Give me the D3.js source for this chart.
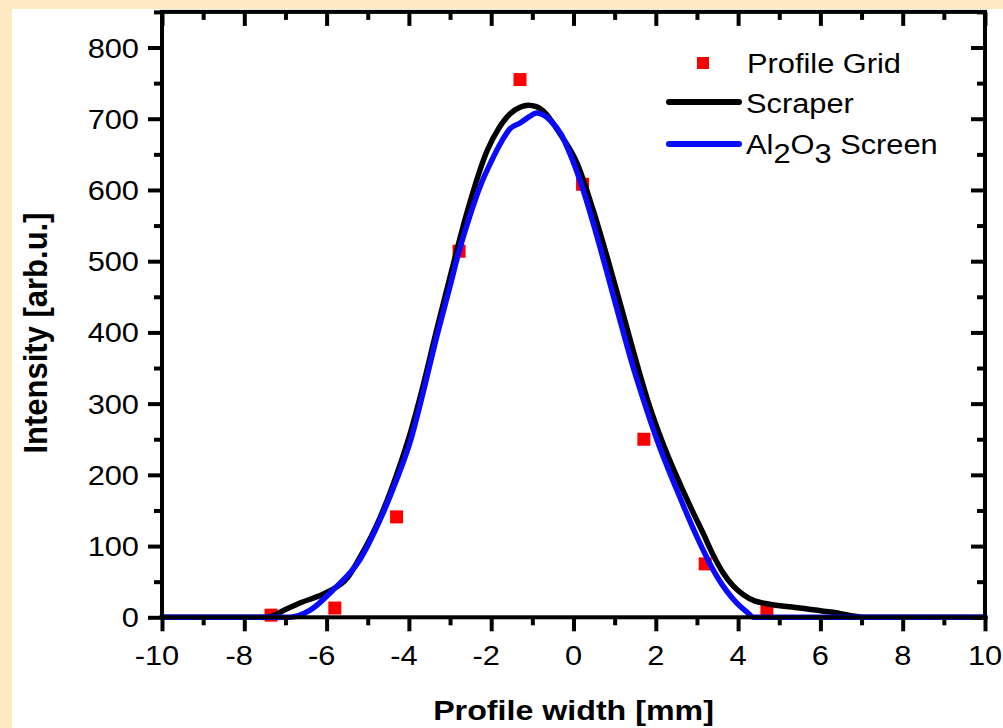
<!DOCTYPE html>
<html><head><meta charset="utf-8">
<script src="https://cdn.jsdelivr.net/npm/d3@7"></script>
<style>
html,body{margin:0;padding:0;background:#FDE9C2;}
svg{display:block;}
text{font-family:"Liberation Sans",Arial,sans-serif;fill:#000;}
</style></head>
<body>
<svg id="chart" width="1003" height="728"></svg>
<script>
// ---- data ----
const gridX = [-7.35, -5.8, -4.3, -2.78, -1.3, 0.22, 1.71, 3.2, 4.7];
const gridY = [3, 13, 141, 514, 755, 608, 250, 75, 10];

const scraperX = [-10, -7.45, -7.0, -6.65, -6.0, -5.5, -5.19, -4.7, -4.3, -3.95, -3.7, -3.32, -3.0, -2.59, -2.1, -1.8, -1.54, -1.3, -1.1, -0.9, -0.74, -0.33, 0.09, 0.47, 0.86, 1.2, 1.53, 1.8, 2.2, 2.7, 2.9, 3.15, 3.39, 3.63, 3.88, 4.12, 4.4, 4.7, 5.5, 6.3, 7.1, 10];
const scraperY = [0, 0, 11, 20, 35, 55, 84, 140, 200, 262, 315, 405, 478, 568, 655, 688, 707, 716, 719, 717, 711, 679, 637, 573, 497, 427, 358, 305, 240, 173, 148, 118, 88, 63, 44, 32, 23, 19, 13, 7, 0, 0];

const screenX = [-10, -6.9, -6.4, -5.85, -5.2, -4.7, -4.3, -3.95, -3.7, -3.32, -3.0, -2.8, -2.55, -2.27, -2.0, -1.75, -1.54, -1.3, -1.1, -0.89, -0.57, -0.3, -0.16, 0.16, 0.47, 0.81, 1.13, 1.45, 1.69, 2.03, 2.51, 3.0, 3.49, 3.97, 4.2, 4.38, 10];
const screenY = [0, 0, 10, 38, 80, 137, 193, 250, 305, 395, 465, 510, 558, 605, 640, 668, 686, 694, 702, 708, 698, 678, 661, 613, 555, 485, 417, 351, 307, 249, 179, 113, 57, 20, 8, 0, 0];

const xTicks = [-10, -8, -6, -4, -2, 0, 2, 4, 6, 8, 10];
const xMinor = [-9, -7, -5, -3, -1, 1, 3, 5, 7, 9];
const yTicks = [0, 100, 200, 300, 400, 500, 600, 700, 800];
const yMinor = [50, 150, 250, 350, 450, 550, 650, 750, 850];

const xTitle = "Profile width [mm]";
const yTitle = "Intensity [arb.u.]";
const legendLabels = ["Profile Grid", "Scraper", "Screen"];

// ---- layout ----
const svg = d3.select("#chart");
svg.append("rect").attr("x", 12).attr("y", 9).attr("width", 991).attr("height", 719).attr("fill", "#ffffff");

const x = d3.scaleLinear().domain([-10, 10]).range([162, 985]);
const y = d3.scaleLinear().domain([0, 850]).range([617.3, 11.9]);

const fs = 28;
const sx = 1.1;
const blue = "#0a0aff";

// data marks
const g = svg.append("g");
g.selectAll("rect.pt").data(gridX.map((d, i) => [d, gridY[i]])).enter()
  .append("rect").attr("class", "pt")
  .attr("x", d => x(d[0]) - 6.5).attr("y", d => y(d[1]) - 6.5)
  .attr("width", 13).attr("height", 13).attr("fill", "#ff0000");

const line = d3.line().x(d => x(d[0])).y(d => y(d[1])).curve(d3.curveMonotoneX);
g.append("path").datum(scraperX.map((d, i) => [d, scraperY[i]]))
  .attr("d", line).attr("fill", "none").attr("stroke", "#000000").attr("stroke-width", 5.5).attr("stroke-linejoin", "round").attr("stroke-linecap", "round");
g.append("path").datum(screenX.map((d, i) => [d, screenY[i]]))
  .attr("d", line).attr("fill", "none").attr("stroke", blue).attr("stroke-width", 5.5).attr("stroke-linejoin", "round").attr("stroke-linecap", "round");

// axes
const axW = 4;
function styleAxis(sel) {
  sel.select(".domain").remove();
  sel.selectAll(".tick line").attr("stroke", "#000").attr("stroke-width", axW);
}
function addAxis(axisFn, scale, vals, size, tf) {
  const a = svg.append("g").attr("transform", tf)
    .call(axisFn(scale).tickValues(vals).tickSize(size).tickFormat(() => ""));
  styleAxis(a);
}
addAxis(d3.axisBottom, x, xTicks, 14, `translate(0,${y(0)})`);
addAxis(d3.axisBottom, x, xMinor, 8, `translate(0,${y(0)})`);
addAxis(d3.axisBottom, x, xTicks, 14, `translate(0,${y(850)})`);
addAxis(d3.axisBottom, x, xMinor, 8, `translate(0,${y(850)})`);
addAxis(d3.axisLeft, y, yTicks, 14, `translate(${x(-10)},0)`);
addAxis(d3.axisLeft, y, yMinor, 8, `translate(${x(-10)},0)`);
addAxis(d3.axisLeft, y, yTicks, 14, `translate(${x(10)},0)`);
addAxis(d3.axisLeft, y, yMinor, 8, `translate(${x(10)},0)`);

// frame
svg.append("rect").attr("x", x(-10)).attr("y", y(850)).attr("width", x(10) - x(-10)).attr("height", y(0) - y(850))
  .attr("fill", "none").attr("stroke", "#000").attr("stroke-width", axW);

// tick labels
svg.append("g").selectAll("text").data(xTicks).enter().append("text")
  .attr("transform", d => `translate(${x(d) - (d < 0 ? 5 : 0)},665) scale(${sx},1)`)
  .attr("text-anchor", "middle").attr("font-size", fs).text(d => d);
svg.append("g").selectAll("text").data(yTicks).enter().append("text")
  .attr("transform", d => `translate(139,${y(d) + 10}) scale(${sx},1)`)
  .attr("text-anchor", "end").attr("font-size", fs).text(d => d);

// axis titles
svg.append("text").attr("transform", `translate(${x(0)},720) scale(1.13,1)`)
  .attr("text-anchor", "middle").attr("font-size", 28.5).attr("font-weight", "bold").text(xTitle);
svg.append("text").attr("transform", `translate(47,333) rotate(-90) scale(1,1.05)`)
  .attr("text-anchor", "middle").attr("font-size", 31).attr("font-weight", "bold").text(yTitle);

// legend
const lg = svg.append("g");
lg.append("rect").attr("x", 697).attr("y", 57).attr("width", 12).attr("height", 12).attr("fill", "#ff0000");
lg.append("text").attr("transform", `translate(747,73) scale(${sx},1)`).attr("font-size", fs).text(legendLabels[0]);
lg.append("line").attr("x1", 669).attr("x2", 739).attr("y1", 102).attr("y2", 102).attr("stroke", "#000").attr("stroke-width", 6).attr("stroke-linecap", "round");
lg.append("text").attr("transform", `translate(746,113) scale(${sx},1)`).attr("font-size", fs).text(legendLabels[1]);
lg.append("line").attr("x1", 669).attr("x2", 739).attr("y1", 144).attr("y2", 144).attr("stroke", blue).attr("stroke-width", 6).attr("stroke-linecap", "round");
const t3 = lg.append("text").attr("transform", `translate(746,154) scale(${sx},1)`).attr("font-size", fs);
t3.append("tspan").text("Al");
t3.append("tspan").attr("dy", 9).text("2");
t3.append("tspan").attr("dy", -9).text("O");
t3.append("tspan").attr("dy", 9).text("3");
t3.append("tspan").attr("dy", -9).text(" " + legendLabels[2]);
</script>
</body></html>
